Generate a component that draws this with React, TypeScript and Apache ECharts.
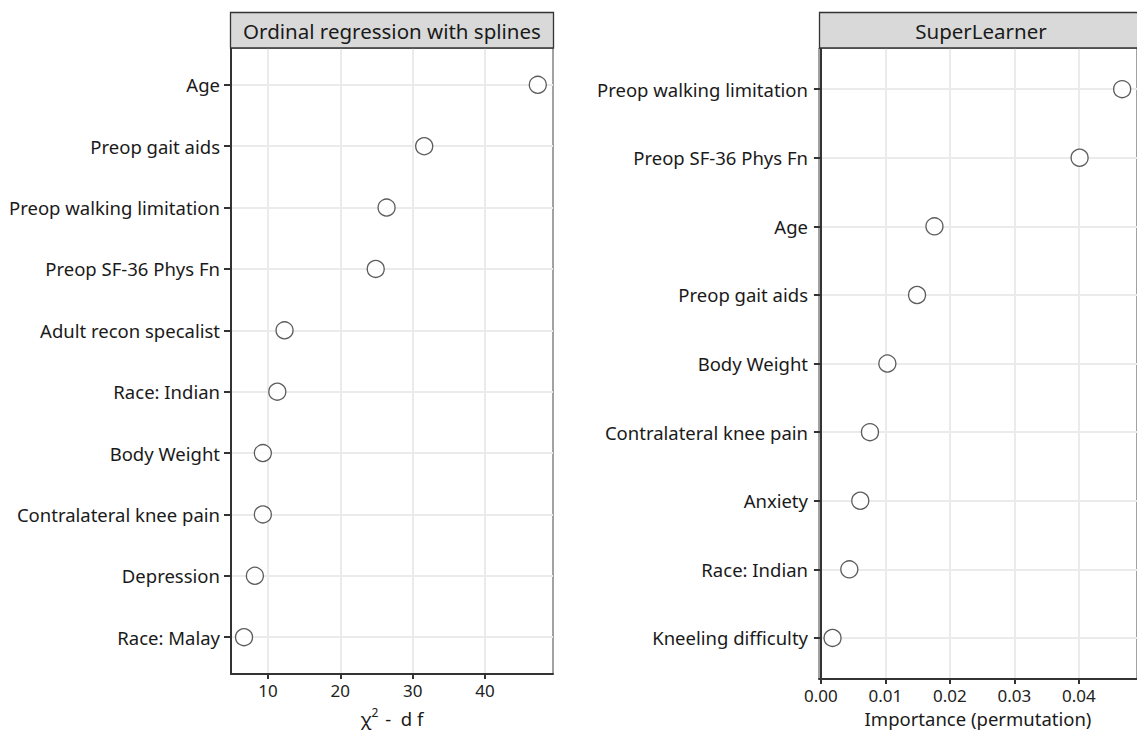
import React, { useEffect, useRef } from "react";
import * as echarts from "echarts";

const ordinalCategories = [
  "Age",
  "Preop gait aids",
  "Preop walking limitation",
  "Preop SF-36 Phys Fn",
  "Adult recon specalist",
  "Race: Indian",
  "Body Weight",
  "Contralateral knee pain",
  "Depression",
  "Race: Malay",
];
const ordinalValues = [47.3, 31.6, 26.4, 24.9, 12.3, 11.3, 9.3, 9.3, 8.2, 6.7];

const slCategories = [
  "Preop walking limitation",
  "Preop SF-36 Phys Fn",
  "Age",
  "Preop gait aids",
  "Body Weight",
  "Contralateral knee pain",
  "Anxiety",
  "Race: Indian",
  "Kneeling difficulty",
];
const slValues = [0.0467, 0.0401, 0.0176, 0.0149, 0.0103, 0.0076, 0.0061, 0.0044, 0.0018];

const ordinalTicks = [10, 20, 30, 40];
const slTicks = [0, 0.01, 0.02, 0.03, 0.04];

const panelTitles = ["Ordinal regression with splines", "SuperLearner"];

const FONT = "Noto Sans";

export default function App() {
  const ref = useRef<HTMLDivElement>(null);
  useEffect(() => {
    if (!ref.current) return;
    const chart = echarts.init(ref.current, undefined, { renderer: "svg" });

    const idx = (arr: string[]) => arr.map((_, i) => i);

    const yAxisBase = (cats: string[], gridIndex: number) => ({
      type: "value" as const,
      gridIndex,
      inverse: true,
      min: -0.6,
      max: cats.length - 1 + 0.6,
      axisLine: { show: true, lineStyle: { color: "#333333", width: 2 } },
      axisTick: {
        show: true,
        length: 7,
        customValues: idx(cats),
        lineStyle: { color: "#333333", width: 2 },
      },
      axisLabel: {
        customValues: idx(cats),
        formatter: (v: number) => cats[Math.round(v)] ?? "",
        fontFamily: FONT,
        fontSize: 18.5,
        color: "#1a1a1a",
        margin: 11,
      },
      splitLine: { show: true, lineStyle: { color: "#ebebeb", width: 2 } },
    });

    const xAxisBase = (
      gridIndex: number,
      min: number,
      max: number,
      ticks: number[],
      fmt: (v: number) => string
    ) => ({
      type: "value" as const,
      gridIndex,
      min,
      max,
      axisLine: { show: true, onZero: false, lineStyle: { color: "#333333", width: 2 } },
      axisTick: {
        show: true,
        length: 5,
        customValues: ticks,
        lineStyle: { color: "#333333", width: 2 },
      },
      axisLabel: {
        customValues: ticks,
        formatter: fmt,
        fontFamily: FONT,
        fontSize: 17,
        color: "#222222",
        margin: 8,
        showMinLabel: true,
        showMaxLabel: true,
      },
      splitLine: { show: true, lineStyle: { color: "#ebebeb", width: 2 } },
      nameLocation: "middle" as const,
    });

    const option: any = {
      animation: false,
      backgroundColor: "#ffffff",
      grid: [
        {
          left: 231,
          top: 48,
          width: 322,
          height: 626,
          show: true,
          backgroundColor: "#ffffff",
          borderColor: "#444444",
          borderWidth: 1,
        },
        {
          left: 819,
          top: 48,
          width: 324,
          height: 637,
          show: true,
          backgroundColor: "#ffffff",
          borderColor: "#444444",
          borderWidth: 1,
        },
      ],
      xAxis: [
        {
          ...xAxisBase(0, 4.9, 49.4, ordinalTicks, (v: number) => String(v)),
          name: "{a|χ}{s|2}{a| -  d f}",
          nameGap: 32,
          nameTextStyle: {
            rich: {
              a: { fontFamily: FONT, fontSize: 18.5, color: "#1a1a1a", verticalAlign: "bottom" },
              s: { fontFamily: FONT, fontSize: 12, color: "#1a1a1a", verticalAlign: "top", padding: [0, 2, 10, 0] },
            },
          },
        },
        {
          ...xAxisBase(1, -0.0003, 0.049, slTicks, (v: number) => v.toFixed(2)),
          name: "Importance (permutation)",
          nameGap: 29,
          nameTextStyle: { fontFamily: FONT, fontSize: 18.5, color: "#1a1a1a" },
        },
      ],
      yAxis: [yAxisBase(ordinalCategories, 0), yAxisBase(slCategories, 1)],
      series: [
        {
          type: "scatter",
          xAxisIndex: 0,
          yAxisIndex: 0,
          symbol: "circle",
          symbolSize: 17,
          itemStyle: { color: "#ffffff", borderColor: "#333333", borderWidth: 1.3 },
          data: ordinalValues.map((v, i) => [v, i]),
          z: 5,
        },
        {
          type: "scatter",
          xAxisIndex: 1,
          yAxisIndex: 1,
          symbol: "circle",
          symbolSize: 17,
          itemStyle: { color: "#ffffff", borderColor: "#333333", borderWidth: 1.3 },
          data: slValues.map((v, i) => [v, i]),
          z: 5,
        },
      ],
      graphic: [
        {
          type: "rect",
          shape: { x: 230.5, y: 12.5, width: 323, height: 35.5 },
          style: { fill: "#d9d9d9", stroke: "#333333", lineWidth: 1.3 },
          z: 10,
        },
        {
          type: "text",
          x: 392,
          y: 31,
          style: {
            text: panelTitles[0],
            fontFamily: FONT,
            fontSize: 20.5,
            fill: "#1a1a1a",
            textAlign: "center",
            textVerticalAlign: "middle",
          },
          z: 11,
        },
        {
          type: "rect",
          shape: { x: 819.5, y: 12.5, width: 330, height: 35.5 },
          style: { fill: "#d9d9d9", stroke: "#333333", lineWidth: 1.3 },
          z: 10,
        },
        {
          type: "text",
          x: 981,
          y: 31,
          style: {
            text: panelTitles[1],
            fontFamily: FONT,
            fontSize: 20.5,
            fill: "#1a1a1a",
            textAlign: "center",
            textVerticalAlign: "middle",
          },
          z: 11,
        },
      ],
    };

    chart.setOption(option);
    return () => chart.dispose();
  }, []);

  return (
    <div
      ref={ref}
      style={{ position: "fixed", left: 0, top: 0, width: 1137, height: 733, background: "#fff" }}
    />
  );
}
